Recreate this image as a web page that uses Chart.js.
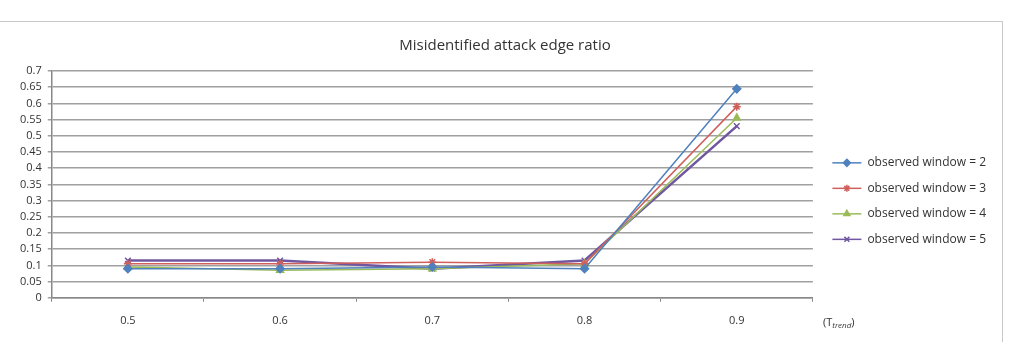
<!DOCTYPE html>
<html>
<head>
<meta charset="utf-8">
<script src="https://cdn.jsdelivr.net/npm/chart.js@4/dist/chart.umd.min.js"></script>
<style>
  html, body { margin: 0; padding: 0; background: #fff; }
  #wrap { width: 1011px; height: 342px; }
</style>
</head>
<body>
<div id="wrap"><canvas id="myChart" width="1011" height="342"></canvas></div>
<script>
'use strict';

// data
const categories = ['0.5', '0.6', '0.7', '0.8', '0.9'];
const window2 = [0.09, 0.09, 0.095, 0.09, 0.645];
const window3 = [0.105, 0.105, 0.11, 0.105, 0.59];
const window4 = [0.095, 0.085, 0.09, 0.105, 0.555];
const window5 = [0.115, 0.115, 0.09, 0.115, 0.53];
const seriesNames = ['observed window = 2', 'observed window = 3', 'observed window = 4', 'observed window = 5'];
const titleText = 'Misidentified attack edge ratio';

const FONT = '"Open Sans", "Liberation Sans", sans-serif';
const colors = ['#4F81BD', '#D0605C', '#9BBB59', '#7057A0'];
const markers = ['rectRot', 'star', 'triangle', 'crossRot'];
const widths = [1.5, 1.5, 1.5, 2.5];

function makeSet(i, values) {
  return {
    label: seriesNames[i],
    data: values,
    borderColor: colors[i],
    backgroundColor: colors[i],
    borderWidth: widths[i],
    pointStyle: markers[i],
    pointRadius: 4,
    pointBorderWidth: 1.5,
    tension: 0,
  };
}

// frame round the chart + the "(T trend)" axis note
const extras = {
  id: 'extras',
  beforeDraw(chart) {
    const ctx = chart.ctx;
    ctx.save();
    ctx.strokeStyle = '#c8c8c8';
    ctx.lineWidth = 1;
    ctx.strokeRect(-0.5, 21.5, 1003, 340);
    ctx.restore();
  },
  afterDraw(chart) {
    const ctx = chart.ctx;
    ctx.save();
    // markers in the legend
    const legend = chart.legend;
    legend.legendHitBoxes.forEach((box, i) => {
      const x = box.left + legend.options.labels.boxWidth / 2;
      const y = box.top + 6;
      ctx.fillStyle = colors[i];
      ctx.strokeStyle = colors[i];
      ctx.lineWidth = 1.5;
      Chart.helpers.drawPoint(ctx, { pointStyle: markers[i], radius: 3.5, rotation: 0, borderWidth: 1.5 }, x, y);
    });
    // axis note
    const x0 = 823, y0 = 323;
    ctx.fillStyle = '#333';
    ctx.textBaseline = 'middle';
    ctx.font = '11px ' + FONT;
    ctx.fillText('(T', x0, y0);
    let w = ctx.measureText('(T').width;
    ctx.font = 'italic 8px ' + FONT;
    ctx.fillText('trend', x0 + w, y0 + 3);
    w += ctx.measureText('trend').width;
    ctx.font = '11px ' + FONT;
    ctx.fillText(')', x0 + w, y0);
    ctx.restore();
  }
};

const ctx = document.getElementById('myChart').getContext('2d');

const config = {
  type: 'line',
  data: {
    labels: categories,
    datasets: [
      makeSet(0, window2),
      makeSet(1, window3),
      makeSet(2, window4),
      makeSet(3, window5),
    ],
  },
  options: {
    responsive: false,
    animation: false,
    layout: {
      padding: { left: 14, right: 15, top: 22, bottom: 3 },
    },
    scales: {
      x: {
        offset: true,
        grid: {
          offset: true,
          drawOnChartArea: false,
          drawTicks: true,
          tickLength: 4,
          color: '#888',
        },
        border: { color: '#888', width: 1.5 },
        ticks: {
          color: '#333',
          padding: 12,
          font: { family: FONT, size: 11 },
        },
      },
      y: {
        min: 0,
        max: 0.7,
        ticks: {
          stepSize: 0.05,
          autoSkip: false,
          color: '#333',
          padding: 6,
          font: { family: FONT, size: 11 },
          callback: v => String(parseFloat(v.toFixed(2))),
        },
        grid: {
          color: '#a0a0a0',
          lineWidth: 1.5,
          tickLength: 4,
        },
        border: { color: '#888', width: 1.5 },
      },
      // empty gap between plot and legend
      gap: {
        position: 'right',
        display: true,
        grid: { display: false },
        border: { display: false },
        ticks: { display: false },
        afterFit(scale) { scale.width = 6; },
      },
    },
    plugins: {
      title: {
        display: true,
        text: titleText,
        color: '#333',
        font: { family: FONT, size: 15, weight: 'normal' },
        padding: { top: 15, bottom: 16 },
      },
      legend: {
        position: 'right',
        maxWidth: 240,
        title: {
          display: true,
          text: ' ',
          padding: { top: 28, bottom: 0 },
          font: { family: FONT, size: 11 },
        },
        labels: {
          boxWidth: 29,
          boxHeight: 1.5,
          padding: 13.5,
          color: '#333',
          font: { family: FONT, size: 12 },
          generateLabels(chart) {
            const items = Chart.defaults.plugins.legend.labels.generateLabels(chart);
            items.forEach(it => { it.lineWidth = 0; });
            return items;
          },
        },
      },
      tooltip: { enabled: false },
    },
  },
  plugins: [extras],
};

const myChart = new Chart(ctx, config);
</script>
</body>
</html>
